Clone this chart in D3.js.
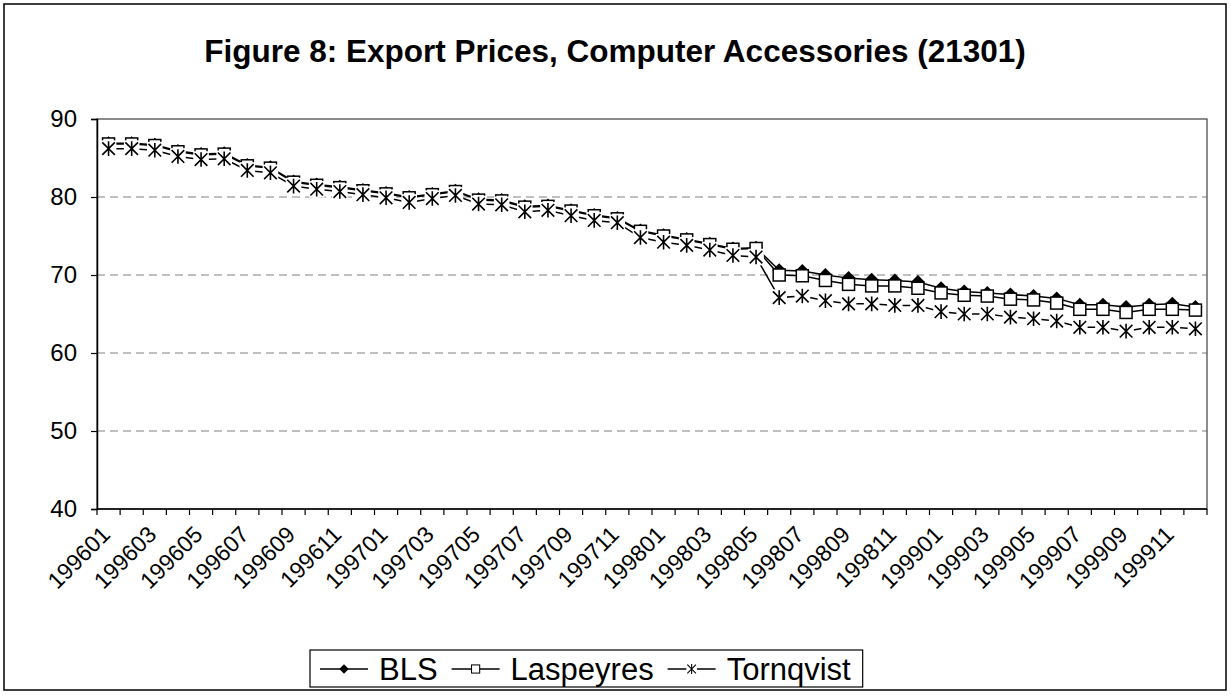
<!DOCTYPE html>
<html lang="en">
<head>
<meta charset="UTF-8">
<title>Figure 8: Export Prices, Computer Accessories (21301)</title>
<script src="https://cdn.jsdelivr.net/npm/d3@7"></script>
<style>
  body { margin: 0; background: #fff; }
  text { font-family: Arial, "Liberation Sans", sans-serif; fill: #000; }
</style>
</head>
<body>
<div id="chart"></div>
<script>
// categories (year + month)
const months = [
  "199601","199602","199603","199604","199605","199606","199607","199608","199609","199610","199611","199612",
  "199701","199702","199703","199704","199705","199706","199707","199708","199709","199710","199711","199712",
  "199801","199802","199803","199804","199805","199806","199807","199808","199809","199810","199811","199812",
  "199901","199902","199903","199904","199905","199906","199907","199908","199909","199910","199911","199912"
];

// series values
const bls = [
  86.9, 86.9, 86.7, 85.9, 85.5, 85.6, 84.1, 83.8, 82.0, 81.6, 81.3, 80.9,
  80.5, 80.0, 80.4, 80.8, 79.7, 79.6, 78.8, 78.9, 78.3, 77.7, 77.3, 75.7,
  75.1, 74.6, 74.0, 73.4, 73.5, 70.6, 70.5, 70.0, 69.6, 69.4, 69.3, 69.1,
  68.3, 67.9, 67.7, 67.5, 67.3, 67.0, 66.2, 66.2, 65.9, 66.2, 66.3, 65.9
];
const laspeyres = [
  86.8, 86.8, 86.6, 85.8, 85.4, 85.5, 84.0, 83.7, 81.9, 81.5, 81.2, 80.8,
  80.4, 79.9, 80.3, 80.7, 79.6, 79.5, 78.7, 78.8, 78.2, 77.6, 77.2, 75.6,
  75.0, 74.5, 73.9, 73.3, 73.4, 70.0, 69.9, 69.3, 68.8, 68.6, 68.6, 68.3,
  67.7, 67.4, 67.3, 66.9, 66.8, 66.4, 65.6, 65.6, 65.2, 65.6, 65.6, 65.5
];
const tornqvist = [
  86.2, 86.2, 86.0, 85.2, 84.8, 84.9, 83.4, 83.1, 81.4, 81.0, 80.7, 80.3,
  79.9, 79.3, 79.8, 80.2, 79.1, 79.0, 78.1, 78.3, 77.6, 77.0, 76.7, 74.8,
  74.2, 73.8, 73.2, 72.5, 72.3, 67.1, 67.3, 66.7, 66.3, 66.3, 66.1, 66.1,
  65.3, 65.0, 65.0, 64.6, 64.4, 64.1, 63.3, 63.3, 62.8, 63.3, 63.3, 63.1
];

const yTicks = [40, 50, 60, 70, 80, 90];
const seriesNames = ["BLS", "Laspeyres", "Tornqvist"];
const markerTypes = ["diamond", "square", "asterisk"];
const titleText = "Figure 8: Export Prices, Computer Accessories (21301)";

const width = 1231, height = 696;
const plot = { left: 97, right: 1207, top: 119, bottom: 509 };

const svg = d3.select("#chart").append("svg")
  .attr("width", width)
  .attr("height", height);

svg.append("rect")
  .attr("x", 4).attr("y", 4)
  .attr("width", 1222).attr("height", 686)
  .attr("fill", "#fff")
  .attr("stroke", "#000")
  .attr("stroke-width", 1.5);

svg.append("text")
  .attr("x", 615).attr("y", 62)
  .attr("text-anchor", "middle")
  .style("font-size", "31.5px")
  .style("font-weight", "bold")
  .text(titleText);

const x = d3.scaleBand()
  .domain(months)
  .range([plot.left, plot.right]);

const y = d3.scaleLinear()
  .domain([40, 90])
  .range([plot.bottom, plot.top]);

const cx = d => x(d) + x.bandwidth() / 2;

// gridlines
svg.append("g")
  .selectAll("line")
  .data(yTicks.filter(t => t > 40 && t < 90))
  .join("line")
  .attr("x1", plot.left).attr("x2", plot.right)
  .attr("y1", d => y(d)).attr("y2", d => y(d))
  .attr("stroke", "#808080")
  .attr("stroke-width", 1)
  .attr("stroke-dasharray", "8,5");

// plot area frame
svg.append("rect")
  .attr("x", plot.left).attr("y", plot.top)
  .attr("width", plot.right - plot.left)
  .attr("height", plot.bottom - plot.top)
  .attr("fill", "none")
  .attr("stroke", "#404040")
  .attr("stroke-width", 1.2);

// y axis
const yAxis = svg.append("g")
  .attr("transform", `translate(${plot.left},0)`)
  .call(d3.axisLeft(y).tickValues(yTicks).tickSize(6).tickPadding(14));
yAxis.select(".domain").attr("stroke", "#000").attr("stroke-width", 1.5);
yAxis.selectAll(".tick line").attr("stroke", "#000").attr("stroke-width", 1.2);
yAxis.selectAll(".tick text")
  .style("font-size", "24px")
  .style("font-family", "Arial, 'Liberation Sans', sans-serif");

// x axis: ticks between categories, labels on every other month
const xAxisG = svg.append("g");
xAxisG.append("line")
  .attr("x1", plot.left).attr("x2", plot.right)
  .attr("y1", plot.bottom).attr("y2", plot.bottom)
  .attr("stroke", "#000").attr("stroke-width", 1.5);
xAxisG.selectAll("line.tk")
  .data(months.concat(["end"]))
  .join("line")
  .attr("class", "tk")
  .attr("x1", d => d === "end" ? plot.right : x(d))
  .attr("x2", d => d === "end" ? plot.right : x(d))
  .attr("y1", plot.bottom).attr("y2", plot.bottom + 6)
  .attr("stroke", "#000").attr("stroke-width", 1.2);
xAxisG.selectAll("text")
  .data(months.filter((d, i) => i % 2 === 0))
  .join("text")
  .attr("transform", d => `translate(${cx(d) + 3},${plot.bottom + 27}) rotate(-45)`)
  .attr("text-anchor", "end")
  .style("font-size", "23px")
  .text(d => d);

// series
const seriesData = [bls, laspeyres, tornqvist];
const line = d3.line()
  .x((d, i) => cx(months[i]))
  .y(d => y(d));

function drawMarker(g, type, px, py) {
  if (type === "diamond") {
    const s = 7;
    g.append("path")
      .attr("d", `M${px},${py - s}L${px + s},${py}L${px},${py + s}L${px - s},${py}Z`)
      .attr("fill", "#000");
  } else if (type === "square") {
    const s = 6;
    g.append("rect")
      .attr("x", px - s).attr("y", py - s)
      .attr("width", 2 * s).attr("height", 2 * s)
      .attr("fill", "#fff").attr("stroke", "#000").attr("stroke-width", 1.5);
  } else {
    const w = 6.3, h = 7.3;
    g.append("rect")
      .attr("x", px - w - 1.5).attr("y", py - h - 1)
      .attr("width", 2 * w + 3).attr("height", 2 * h + 2)
      .attr("fill", "#fff");
    g.append("path")
      .attr("d", `M${px},${py - h}L${px},${py + h}M${px - w},${py - h + 1}L${px + w},${py + h - 1}M${px + w},${py - h + 1}L${px - w},${py + h - 1}`)
      .attr("stroke", "#000").attr("stroke-width", 1.6).attr("fill", "none");
  }
}

seriesData.forEach((vals, si) => {
  const g = svg.append("g");
  g.append("path")
    .datum(vals)
    .attr("d", line)
    .attr("fill", "none")
    .attr("stroke", "#000")
    .attr("stroke-width", 1.5);
  vals.forEach((v, i) => drawMarker(g, markerTypes[si], cx(months[i]), y(v)));
});

// legend
const legend = svg.append("g");
const legY = 669;
const boxLeft = 310;
let lx = boxLeft + 10;
seriesNames.forEach((name, si) => {
  const g = legend.append("g");
  g.append("line")
    .attr("x1", lx).attr("x2", lx + 48)
    .attr("y1", legY).attr("y2", legY)
    .attr("stroke", "#000").attr("stroke-width", 1.5);
  const mx = lx + 24;
  const mg = g.append("g").attr("transform", `translate(${mx},${legY}) scale(0.68) translate(${-mx},${-legY})`);
  drawMarker(mg, markerTypes[si], mx, legY);
  const t = g.append("text")
    .attr("x", lx + 59).attr("y", legY + 11)
    .style("font-size", "31px")
    .text(name);
  lx += 59 + t.node().getComputedTextLength() + 14;
});
legend.insert("rect", ":first-child")
  .attr("x", boxLeft).attr("y", 650)
  .attr("width", lx - boxLeft - 2).attr("height", 37)
  .attr("fill", "#fff")
  .attr("stroke", "#000")
  .attr("stroke-width", 1.2);
</script>
</body>
</html>
